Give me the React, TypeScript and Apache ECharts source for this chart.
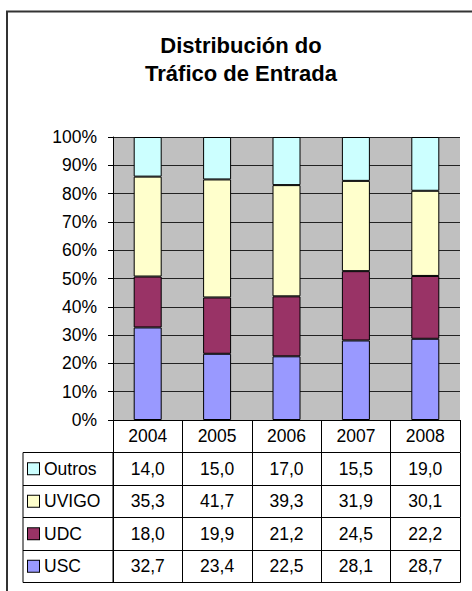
import React, { useEffect, useRef } from 'react';
import * as echarts from 'echarts';

const years = ['2004', '2005', '2006', '2007', '2008'];
const seriesNames = ['USC', 'UDC', 'UVIGO', 'Outros'];
const usc = [32.7, 23.4, 22.5, 28.1, 28.7];
const udc = [18.0, 19.9, 21.2, 24.5, 22.2];
const uvigo = [35.3, 41.7, 39.3, 31.9, 30.1];
const outros = [14.0, 15.0, 17.0, 15.5, 19.0];
const seriesColors = ['#9999FF', '#993366', '#FFFFCC', '#CCFFFF'];
const titleText = 'Distribución do\nTráfico de Entrada';

const FONT = 'Arial, "Liberation Sans", sans-serif';
const FS = 17.5;
const ROW_H = 32.5;

const fmt = (v: number) => v.toFixed(1).replace('.', ',');

export default function App() {
  const ref = useRef<HTMLDivElement>(null);

  useEffect(() => {
    if (!ref.current) return;
    const chart = echarts.init(ref.current, undefined, { renderer: 'svg' });

    const seriesData = [usc, udc, uvigo, outros];
    // table rows, top to bottom
    const tableOrder = [3, 2, 1, 0];
    const tableNames = tableOrder.map((i) => seriesNames[i]);

    const labelStyle = {
      show: true,
      interval: 0,
      fontSize: FS,
      lineHeight: 20,
      color: '#000',
      fontFamily: FONT,
      margin: 6,
    };
    const rowAxis = (data: string[], offset: number) => ({
      gridIndex: 0,
      type: 'category',
      data,
      position: 'bottom',
      offset,
      axisLine: { show: true, onZero: false, lineStyle: { color: '#000', width: 1 } },
      axisTick: { show: true, interval: 0, length: ROW_H, lineStyle: { color: '#000', width: 1 } },
      axisLabel: labelStyle,
      splitLine: { show: false },
    });

    const rich: Record<string, any> = {
      t: { fontSize: FS, color: '#000', fontFamily: FONT, padding: [0, 0, 0, 5] },
    };
    tableOrder.forEach((si, k) => {
      rich['k' + k] = {
        width: 11,
        height: 11,
        backgroundColor: seriesColors[si],
        borderColor: '#000',
        borderWidth: 1,
        padding: [0, 0, 0, 0],
      };
    });

    const option: any = {
      animation: false,
      backgroundColor: '#fff',
      textStyle: { fontFamily: FONT },
      title: {
        text: titleText,
        left: 241,
        top: 31,
        padding: 0,
        textAlign: 'center',
        textStyle: {
          fontSize: 22,
          fontWeight: 'bold',
          color: '#000',
          fontFamily: FONT,
          lineHeight: 28.5,
        },
      },
      graphic: [
        {
          type: 'rect',
          silent: true,
          shape: { x: 7, y: 11.5, width: 480, height: 620 },
          style: { fill: 'none', stroke: '#333', lineWidth: 2 },
        },
      ],
      grid: [
        {
          left: 113,
          top: 137,
          width: 347,
          height: 283,
          show: true,
          backgroundColor: '#C0C0C0',
          borderWidth: 0,
          containLabel: false,
        },
        {
          left: 23,
          top: 452.5,
          width: 90,
          height: ROW_H * 4,
          show: true,
          backgroundColor: 'transparent',
          borderColor: '#000',
          borderWidth: 1,
          containLabel: false,
        },
      ],
      xAxis: [
        rowAxis(years, 0),
        ...tableOrder.map((si, k) => rowAxis(seriesData[si].map(fmt), ROW_H * (k + 1))),
        {
          gridIndex: 0,
          type: 'category',
          data: years,
          position: 'bottom',
          offset: ROW_H * 5,
          axisLine: { show: true, onZero: false, lineStyle: { color: '#000', width: 1 } },
          axisTick: { show: false },
          axisLabel: { show: false },
          splitLine: { show: false },
        },
        { gridIndex: 1, type: 'value', show: false },
      ],
      yAxis: [
        {
          gridIndex: 0,
          type: 'value',
          min: 0,
          max: 100,
          interval: 10,
          axisLine: { show: true, lineStyle: { color: '#000', width: 1 } },
          axisTick: { show: true, length: 5, lineStyle: { color: '#000', width: 1 } },
          axisLabel: {
            formatter: '{value}%',
            fontSize: FS,
            color: '#000',
            fontFamily: FONT,
            margin: 16,
          },
          splitLine: { show: true, lineStyle: { color: '#222', width: 1 } },
        },
        {
          gridIndex: 1,
          type: 'category',
          inverse: true,
          data: tableNames,
          axisLine: { show: false },
          axisTick: { show: false },
          splitLine: { show: true, interval: 0, lineStyle: { color: '#000', width: 1 } },
          axisLabel: {
            inside: true,
            interval: 0,
            margin: 5,
            formatter: (value: string, index: number) => `{k${index}|}{t|${value}}`,
            rich,
          },
        },
      ],
      series: seriesNames.map((name, i) => ({
        name,
        type: 'bar',
        stack: 'total',
        xAxisIndex: 0,
        yAxisIndex: 0,
        barWidth: 28,
        data: seriesData[i],
        itemStyle: { color: seriesColors[i], borderColor: '#000', borderWidth: 1 },
      })),
    };

    chart.setOption(option);
    return () => chart.dispose();
  }, []);

  return (
    <div
      ref={ref}
      style={{ position: 'absolute', left: 0, top: 0, width: 472, height: 591, background: '#fff' }}
    />
  );
}
